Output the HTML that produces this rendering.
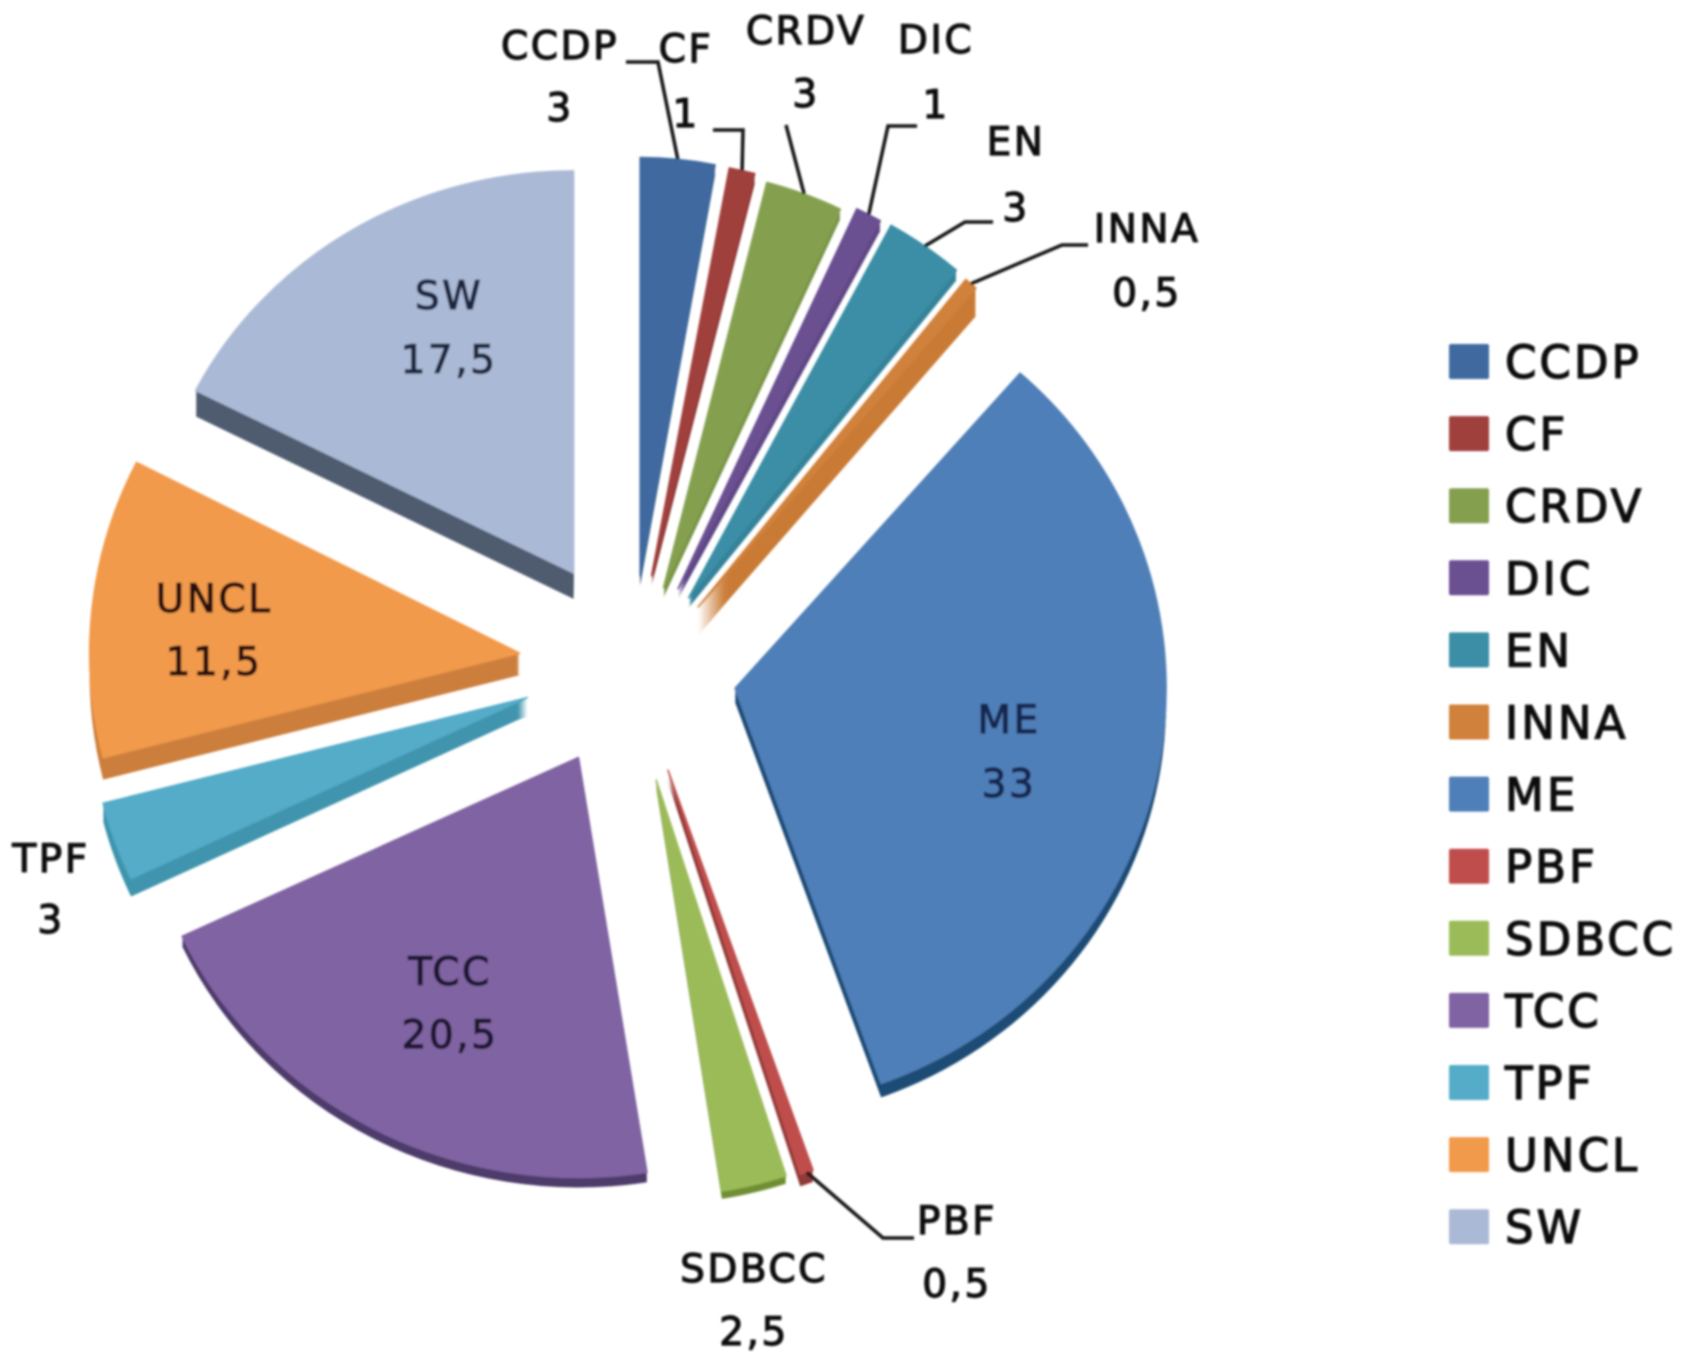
<!DOCTYPE html>
<html lang="en">
<head>
<meta charset="utf-8">
<title>Exploded pie chart</title>
<style>
  html, body { margin: 0; padding: 0; background: #fff; }
  #chart { display: block; width: 1681px; height: 1361px; }
  text { font-family: "DejaVu Sans", "Liberation Sans", sans-serif; }
</style>
</head>
<body>
<svg id="chart" xmlns="http://www.w3.org/2000/svg" width="1681" height="1361" viewBox="0 0 1681 1361">
  <defs>
    <filter id="soft" x="-5%" y="-5%" width="110%" height="110%">
      <feGaussianBlur stdDeviation="1.1"/>
    </filter>
  </defs>
  <rect width="1681" height="1361" fill="#ffffff"/>
  <g id="root" filter="url(#soft)"></g>
</svg>
<script>
// Data
const categories = ["CCDP", "CF", "CRDV", "DIC", "EN", "INNA", "ME", "PBF", "SDBCC", "TCC", "TPF", "UNCL", "SW"];
const values = [3, 1, 3, 1, 3, 0.5, 33, 0.5, 2.5, 20.5, 3, 11.5, 17.5];

// Styles
const topColors = ["#3f6a9f", "#a0403d", "#84a04f", "#6b4f91", "#3b8ea5", "#d0813a", "#4f7fb8", "#bf4d4b", "#9bbb59", "#8064a2", "#55acc8", "#f29a4c", "#aab9d6"];
const sideColors = ["#3a6393", "#8a3533", "#7a9548", "#5f4684", "#35839a", "#c97a35", "#1f4b75", "#8f3a38", "#6f8f33", "#4d3a6a", "#3f94ad", "#cc7f3c", "#4f5b70"];
const labelColors = ["#0a0a0a", "#0a0a0a", "#0a0a0a", "#0a0a0a", "#0a0a0a", "#0a0a0a", "#14264f", "#0a0a0a", "#0a0a0a", "#1f1533", "#0a0a0a", "#2a1010", "#1c2740"];

// Layout (not data)
const cx = 631, cy = 668, explode = 108;
const nudgeX = [-1, -3, -4, -2, -3, -3, -2, 2, 0, -2, -2, -4, -1];
const nudgeY = [15, 13, 21, 17, 19, 21, 0, 0, 7, -6, -7, -3, -3];
const radiiX = [400, 415, 415, 420, 420, 420, 431, 428, 420, 438, 438, 430, 424];
const radiiY = [418, 415, 418, 420, 425, 425, 420, 425, 416, 420, 425, 420, 402];
const depths = [10, 10, 10, 10, 10, 28, 14, 12, 8, 10, 18, 22, 26];
const labelAnchors = {
  CCDP: [560, 45, 107], CF: [686, 48, 113], CRDV: [806, 30, 93], DIC: [936, 39, 104],
  EN: [1016, 141, 207], INNA: [1147, 228, 292], ME: [1009, 719, 783], PBF: [957, 1220, 1283],
  SDBCC: [754, 1268, 1331], TCC: [450, 971, 1034], TPF: [51, 858, 919], UNCL: [214, 598, 661], SW: [449, 295, 359]
};
const leaderElbows = {
  CCDP: [[626, 62], [658, 62]], CF: [[713, 130], [743, 130]], CRDV: [[786, 125]],
  DIC: [[917, 126], [888, 126]], EN: [[993, 222], [965, 222]], INNA: [[1088, 245], [1062, 245]],
  PBF: [[914, 1238], [883, 1238]]
};
const legendX = 1449, legendTextX = 1505, legendTop = 362, legendStep = 72.1;

const NS = "http://www.w3.org/2000/svg";
const root = document.getElementById("root");
const total = values.reduce(function (a, b) { return a + b; }, 0);

function angleScale(v) { return v / total * 360; }
function dir(deg) {
  const r = deg * Math.PI / 180;
  return [Math.sin(r), -Math.cos(r)];
}
function formatValue(v) { return String(v).replace(".", ","); }
function make(tag, attrs, parent) {
  const el = document.createElementNS(NS, tag);
  Object.keys(attrs).forEach(function (k) { el.setAttribute(k, attrs[k]); });
  parent.appendChild(el);
  return el;
}
function slicePath(ax, ay, rx, ry, a0, a1) {
  const p0 = dir(a0), p1 = dir(a1);
  const large = a1 - a0 > 180 ? 1 : 0;
  return "M" + ax + " " + ay + "L" + (ax + rx * p0[0]) + " " + (ay + ry * p0[1]) +
    "A" + rx + " " + ry + " 0 " + large + " 1 " + (ax + rx * p1[0]) + " " + (ay + ry * p1[1]) + "Z";
}

// Slices
const slicesGroup = make("g", {}, root);


const arcMids = {};
let cumulative = 0;
categories.forEach(function (name, i) {
  const a0 = angleScale(cumulative);
  cumulative += values[i];
  const a1 = angleScale(cumulative);
  const mid = (a0 + a1) / 2;
  const d = dir(mid);
  const ax = cx + explode * d[0] + nudgeX[i];
  const ay = cy + explode * d[1] + nudgeY[i];
  const rx = radiiX[i], ry = radiiY[i];
  arcMids[name] = [ax + rx * d[0], ay + ry * d[1]];

  const g = make("g", {}, slicesGroup);
  
  

  for (let k = depths[i]; k >= 1; k -= 2) {
    const side = make("path", { d: slicePath(ax, ay + k, rx, ry, a0, a1), fill: sideColors[i] }, g);
    
    
  }
  const top = make("path", { d: slicePath(ax, ay, rx, ry, a0, a1), fill: topColors[i], stroke: topColors[i], "stroke-width": 1.5, "stroke-linejoin": "round" }, g);
  
  
});

// Leader lines
Object.keys(leaderElbows).forEach(function (name) {
  const end = arcMids[name];
  const pts = leaderElbows[name].concat([end]).map(function (p) { return p[0] + "," + p[1]; }).join(" ");
  const line = make("polyline", { points: pts, fill: "none", stroke: "#141414", "stroke-width": 3.5 }, root);
  
  
});

// Data labels
categories.forEach(function (name, i) {
  const pos = labelAnchors[name];
  const g = make("g", { "text-anchor": "middle", fill: labelColors[i], stroke: labelColors[i], "stroke-width": 1.2, "font-size": 39, style: "letter-spacing:2.5px" }, root);
  
  
  const t1 = make("text", { x: pos[0], y: pos[1] + 14 }, g);
  t1.textContent = name;
  const t2 = make("text", { x: pos[0], y: pos[2] + 14 }, g);
  t2.textContent = formatValue(values[i]);
});

// Legend
const legend = make("g", {}, root);


categories.forEach(function (name, i) {
  const yc = legendTop + legendStep * i;
  const g = make("g", {}, legend);
  
  
  const sw = make("rect", { x: legendX, y: yc - 18, width: 40, height: 35, rx: 2, fill: topColors[i] }, g);
  
  
  const tx = make("text", { x: legendTextX, y: yc + 16, "font-size": 45, fill: "#0a0a0a", stroke: "#0a0a0a", "stroke-width": 1.3, style: "letter-spacing:3px" }, g);
  
  
  tx.textContent = name;
});
</script>
</body>
</html>
